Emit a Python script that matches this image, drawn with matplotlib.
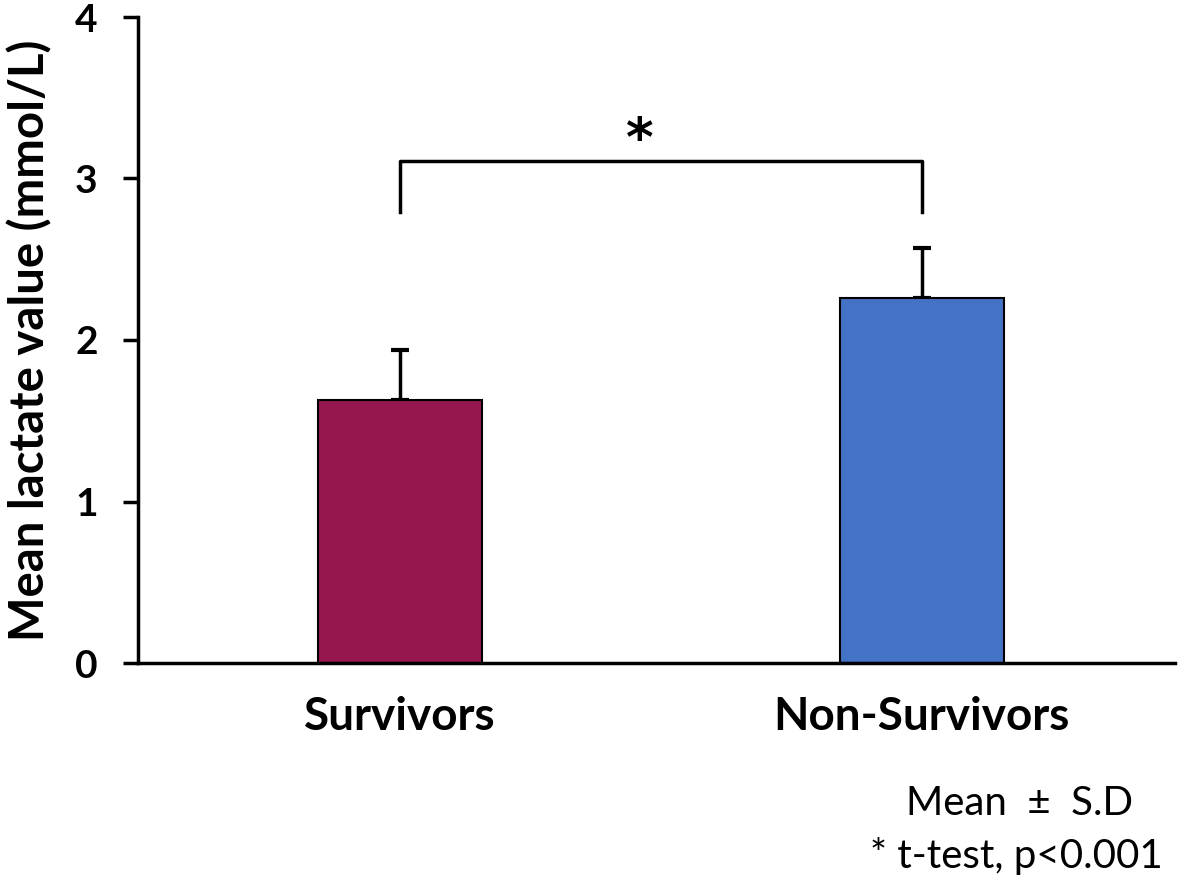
import matplotlib
matplotlib.use("Agg")
import matplotlib.pyplot as plt

categories = ["Survivors", "Non-Survivors"]
means = [1.63, 2.26]
sds = [0.31, 0.31]
colors = ["#96174e", "#4472c4"]
yticks = [0, 1, 2, 3, 4]

plt.rcParams['font.family'] = ['Lato', 'DejaVu Sans']

fig = plt.figure(figsize=(11.84, 8.8), dpi=100)
ax = fig.add_axes([138/1184, 1 - 663/880, (1175-138)/1184, (663-17)/880])

x = list(range(len(categories)))
ax.bar(x, means, width=0.314, color=colors, edgecolor="black", linewidth=1.5, zorder=2)
ax.errorbar(x, means, yerr=[[0, 0], sds], fmt="none", ecolor="black",
            elinewidth=2.5, capsize=6.5, capthick=3, zorder=1)

# significance bracket
yb = 3.11
yleg = 2.79
ax.plot([0, 0, 1, 1], [yleg, yb, yb, yleg], color="black", linewidth=2.5, clip_on=False)
ax.text(0.46, 3.23, "*", ha="center", va="center", fontsize=38, fontweight="bold",
        family=["DejaVu Sans"])

ax.set_xlim(-0.502, 1.485)
ax.set_ylim(0, 4)
ax.set_yticks(yticks)
ax.set_yticklabels([str(t) for t in yticks], fontsize=28, fontweight="bold")
ax.set_xticks(x)
ax.set_xticklabels(categories, fontsize=33, fontweight="bold")
ax.tick_params(axis="x", length=0, pad=24)
ax.tick_params(axis="y", direction="out", length=11, width=2.5, pad=18)
for s in ["top", "right"]:
    ax.spines[s].set_visible(False)
for s in ["left", "bottom"]:
    ax.spines[s].set_linewidth(2.5)

ax.set_ylabel("Mean lactate value (mmol/L)", fontsize=34, fontweight="bold", labelpad=16)

fig.text(1020/1184, 1 - 803/880, "Mean  \u00b1  S.D", ha="center", va="center", fontsize=29)
fig.text(1016/1184, 1 - 856/880, "* t-test, p<0.001", ha="center", va="center", fontsize=29)

fig.savefig("out.png", dpi=100)
